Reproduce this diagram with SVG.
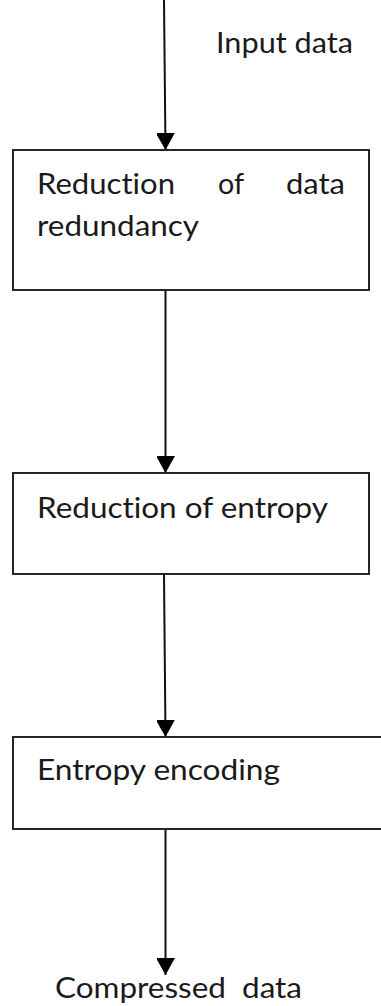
<svg xmlns="http://www.w3.org/2000/svg" width="381" height="1006" viewBox="0 0 381 1006">
  <style>
    .box { fill: #ffffff; stroke: #262626; stroke-width: 2; }
    .link { fill: none; stroke: #111111; stroke-width: 2; }
    .label { font-family: "Lato", "Open Sans", "Liberation Sans", sans-serif; font-size: 29px; fill: #1a1a1a; font-variant-ligatures: none; white-space: pre; }
  </style>
  <defs>
    <marker id="arrowhead" markerUnits="userSpaceOnUse" markerWidth="20" markerHeight="18" refX="17" refY="9.5" orient="auto">
      <path d="M0,0 L17,9.5 L0,19 Z" fill="#000000"/>
    </marker>
  </defs>
  <rect width="381" height="1006" fill="#ffffff"/>

  <!-- flow connectors -->
  <g id="connectors">
    <path class="link" d="M164,0 L165.5,150" marker-end="url(#arrowhead)"/>
    <path class="link" d="M165.5,290 L165.5,473" marker-end="url(#arrowhead)"/>
    <path class="link" d="M164,574 L165.5,737" marker-end="url(#arrowhead)"/>
    <path class="link" d="M165.5,829 L165.5,975" marker-end="url(#arrowhead)"/>
  </g>

  <g id="input">
    <text class="label" x="216" y="53" textLength="137" lengthAdjust="spacingAndGlyphs">Input data</text>
  </g>

  <g id="redundancy">
    <rect class="box" x="13" y="150" width="356" height="140"/>
    <text class="label" x="37" y="194" textLength="138" lengthAdjust="spacingAndGlyphs">Reduction</text>
    <text class="label" x="218" y="194" textLength="26" lengthAdjust="spacingAndGlyphs">of</text>
    <text class="label" x="286" y="194" textLength="59" lengthAdjust="spacingAndGlyphs">data</text>
    <text class="label" x="37" y="236" textLength="162" lengthAdjust="spacingAndGlyphs">redundancy</text>
  </g>

  <g id="entropy-reduction">
    <rect class="box" x="13" y="473" width="356" height="101"/>
    <text class="label" x="37" y="518" textLength="291" lengthAdjust="spacingAndGlyphs">Reduction of entropy</text>
  </g>

  <g id="entropy-encoding">
    <rect class="box" x="13" y="737" width="380" height="92"/>
    <text class="label" x="37" y="780" textLength="243" lengthAdjust="spacingAndGlyphs">Entropy encoding</text>
  </g>

  <g id="output">
    <text class="label" x="55" y="998" textLength="247" lengthAdjust="spacingAndGlyphs" xml:space="preserve">Compressed  data</text>
  </g>
</svg>
